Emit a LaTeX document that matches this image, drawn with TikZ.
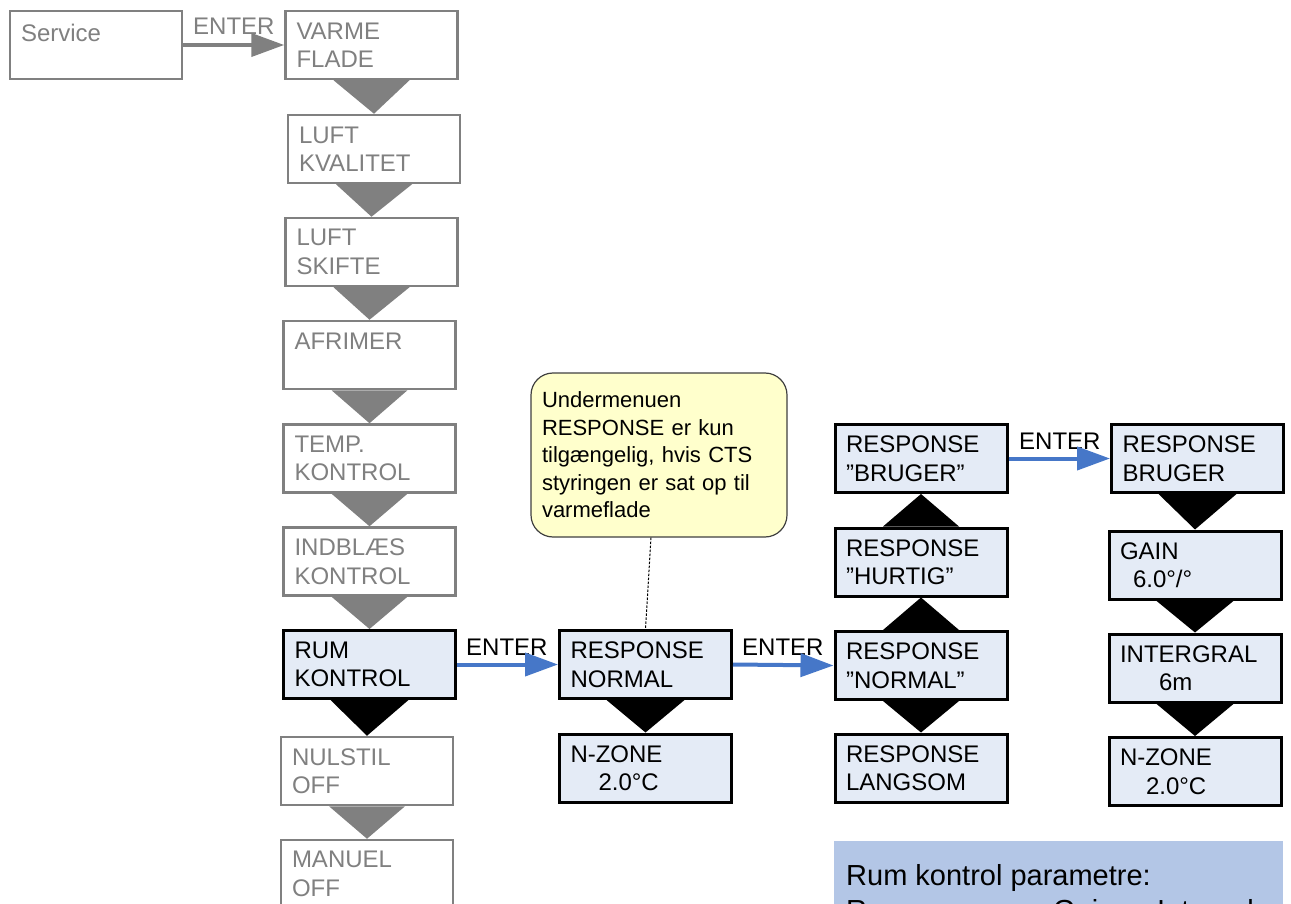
\documentclass[tikz,border=0pt]{standalone}
\usepackage{fontspec}
\setmainfont{Liberation Sans}
\usetikzlibrary{arrows.meta,calc}
\pgfdeclarelayer{bg}
\pgfsetlayers{bg,main}
\definecolor{gline}{HTML}{808080}
\definecolor{boxfill}{HTML}{E4EBF6}
\definecolor{notefill}{HTML}{FFFFCC}
\definecolor{panelfill}{HTML}{B3C6E6}
\definecolor{arrowblue}{HTML}{4677C8}
\begin{document}
\begin{tikzpicture}[x=1pt,y=-1pt,
  basebox/.style={rectangle, inner xsep=11pt, inner ysep=0pt, align=left,
    text width=150pt, minimum height=68pt,
    font=\fontsize{24}{28.5}\selectfont},
  gbox/.style={basebox, draw=gline, line width=2.5pt, fill=white, text=gline},
  bbox/.style={basebox, draw=black, line width=3pt, fill=boxfill, text=black},
  entlabel/.style={anchor=base west, inner sep=0pt, font=\fontsize{24}{28}\selectfont},
  garrow/.style={draw=gline, line width=4pt, -{Triangle[length=33pt,width=23pt]}},
  barrow/.style={draw=arrowblue, line width=4pt, -{Triangle[length=33pt,width=23pt]}},
  gtri/.style={fill=gline},
  btri/.style={fill=black},
]
\useasboundingbox (0,0) rectangle (1291,904);
\clip (0,0) rectangle (1291,904);

% left column
\node[gbox] (service) at (96,45) {\raisebox{-4pt}{Service}\\\mbox{}};
\node[gbox] (varme) at (371.5,45) {VARME\\FLADE};
\node[gbox] (kval) at (374,149) {LUFT\\KVALITET};
\node[gbox] (skifte) at (371.5,252) {LUFT\\SKIFTE};
\node[gbox] (afrimer) at (369.5,355) {AFRIMER\\\mbox{}};
\node[gbox] (temp) at (369.5,458.5) {TEMP.\\KONTROL};
\node[gbox] (indbl) at (369.5,561.5) {INDBLÆS\\KONTROL};
\node[bbox] (rum) at (369.5,664.5) {RUM\\KONTROL};
\node[gbox] (nulstil) at (367,771) {NULSTIL\\OFF};
\node[gbox] (manuel) at (367,874) {MANUEL\\OFF};

% middle column
\node[bbox] (respN) at (645.5,664.5) {RESPONSE\\NORMAL};
\node[bbox] (nzoneA) at (645.5,768) {N-ZONE\\\hspace*{28pt}2.0°C};

% callout
\node[rectangle, rounded corners=22pt, draw=black!75, line width=1.2pt, fill=notefill,
  minimum width=256pt, minimum height=164pt, text width=234pt, inner xsep=11pt,
  align=left, font=\fontsize{22}{27.5}\selectfont] (note) at (659,455)
  {Undermenuen\\RESPONSE er kun\\tilgængelig, hvis CTS\\styringen er sat op til\\varmeflade};

% response column
\node[bbox] (bruger) at (921,458.5) {RESPONSE\\”BRUGER”};
\node[bbox] (hurtig) at (921,562) {RESPONSE\\”HURTIG”};
\node[bbox] (normal) at (921,665.5) {RESPONSE\\”NORMAL”};
\node[bbox] (langsom) at (921,768) {RESPONSE\\LANGSOM};

% right column
\node[bbox] (brugerB) at (1197.5,458.5) {RESPONSE\\BRUGER};
\node[bbox] (gain) at (1195,565) {GAIN\\\hspace*{13pt}6.0°/°};
\node[bbox] (integral) at (1195,668) {INTERGRAL\\\hspace*{39pt}6m};
\node[bbox] (nzoneB) at (1195,771.5) {N-ZONE\\\hspace*{26pt}2.0°C};

% parameter panel
\node[rectangle, fill=panelfill, minimum width=449pt, minimum height=130pt, inner sep=0pt]
  (panel) at (1058.5,906) {};
\node[anchor=base west, inner sep=0pt, align=left, font=\fontsize{29}{35}\selectfont]
  (paneltext) at (846,920)
  {Rum kontrol parametre:\\\makebox[207pt][l]{Response}\makebox[104pt][l]{Gain}Integral};

% ENTER arrows
\node[entlabel, text=gline] (e1) at (193,35) {ENTER};
\draw[garrow] (service.east) -- (varme.west);
\node[entlabel] (e2) at (466,655) {ENTER};
\draw[barrow] (rum.east) -- (respN.west);
\node[entlabel] (e3) at (742,655) {ENTER};
\draw[barrow] (respN.east) -- (normal.west);
\node[entlabel] (e4) at (1019,449) {ENTER};
\draw[barrow] (bruger.east) -- (brugerB.west);

% callout connector
\draw[black, line width=1pt, dash pattern=on 2.5pt off 1.5pt]
  ($(note.south)+(-8,0)$) -- (respN.north);

% triangles
\begin{pgfonlayer}{bg}
\fill[gtri] ($(varme.south)+(-38,0)$) -- ($(varme.south)+(38,0)$) -- (kval.north) -- cycle;
\fill[gtri] ($(kval.south)+(-38,0)$) -- ($(kval.south)+(38,0)$) -- (skifte.north) -- cycle;
\fill[gtri] ($(skifte.south)+(-38,0)$) -- ($(skifte.south)+(38,0)$) -- (afrimer.north) -- cycle;
\fill[gtri] ($(afrimer.south)+(-38,0)$) -- ($(afrimer.south)+(38,0)$) -- (temp.north) -- cycle;
\fill[gtri] ($(temp.south)+(-38,0)$) -- ($(temp.south)+(38,0)$) -- (indbl.north) -- cycle;
\fill[gtri] ($(indbl.south)+(-38,0)$) -- ($(indbl.south)+(38,0)$) -- (rum.north) -- cycle;
\fill[btri] ($(rum.south)+(-39,0)$) -- ($(rum.south)+(39,0)$) -- (nulstil.north) -- cycle;
\fill[gtri] ($(nulstil.south)+(-38,0)$) -- ($(nulstil.south)+(38,0)$) -- (manuel.north) -- cycle;
\fill[btri] ($(respN.south)+(-39,0)$) -- ($(respN.south)+(39,0)$) -- (nzoneA.north) -- cycle;
\fill[btri] ($(hurtig.north)+(-38,0)$) -- (bruger.south) -- ($(hurtig.north)+(38,0)$) -- cycle;
\fill[btri] ($(normal.north)+(-38,0)$) -- (hurtig.south) -- ($(normal.north)+(38,0)$) -- cycle;
\fill[btri] ($(normal.south)+(-38,0)$) -- ($(normal.south)+(38,0)$) -- (langsom.north) -- cycle;
\fill[btri] ($(brugerB.south)+(-39,0)$) -- ($(brugerB.south)+(39,0)$) -- (gain.north) -- cycle;
\fill[btri] ($(gain.south)+(-39,0)$) -- ($(gain.south)+(39,0)$) -- (integral.north) -- cycle;
\fill[btri] ($(integral.south)+(-39,0)$) -- ($(integral.south)+(39,0)$) -- (nzoneB.north) -- cycle;
\end{pgfonlayer}
\end{tikzpicture}
\end{document}
